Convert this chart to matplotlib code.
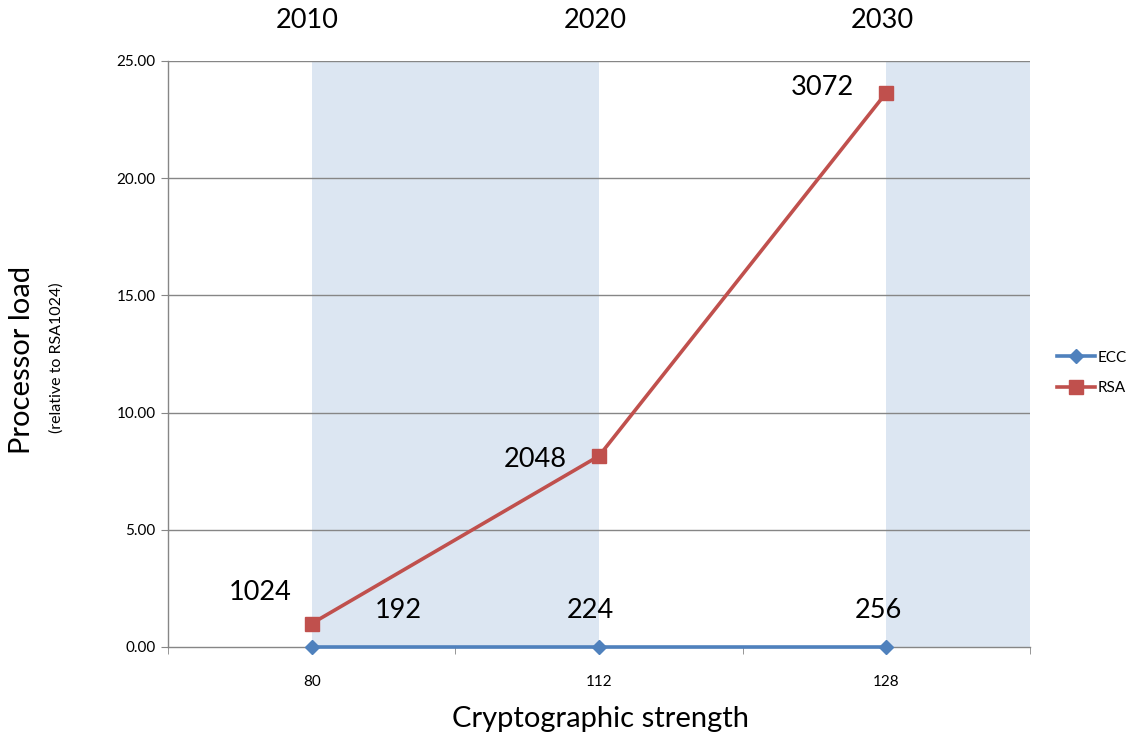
import matplotlib
matplotlib.use("Agg")
import matplotlib.pyplot as plt
from matplotlib.lines import Line2D

plt.rcParams['font.family'] = ['Lato', 'DejaVu Sans']

# Cryptographic strength categories and the years they apply to
strength = ["80", "112", "128"]
years = ["2010", "2020", "2030"]

# Processor load relative to RSA1024
ecc_load = [0.0, 0.0, 0.0]
rsa_load = [1.0, 8.15, 23.65]

# Equivalent key sizes
ecc_keys = ["192", "224", "256"]
rsa_keys = ["1024", "2048", "3072"]

y_ticks = [0, 5, 10, 15, 20, 25]

ecc_color = "#4F81BD"
rsa_color = "#C0504D"
band_color = "#DCE6F2"
grid_color = "#868686"

fig = plt.figure(figsize=(11.27, 7.35), dpi=100)
ax = fig.add_axes([168 / 1127, 1 - 647 / 735, (1030 - 168) / 1127, (647 - 61) / 735])

x = list(range(len(strength)))
ax.set_xlim(-0.5, len(strength) - 0.5)
ax.set_ylim(0, 25)

# shaded time periods
ax.axvspan(x[0], x[1], color=band_color, zorder=0, lw=0)
ax.axvspan(x[2], len(strength) - 0.5, color=band_color, zorder=0, lw=0)

for t in y_ticks[1:]:
    ax.axhline(t, color=grid_color, lw=1, zorder=1)

ax.plot(x, ecc_load, color=ecc_color, lw=2.6, marker="D", markersize=7,
        zorder=4, label="ECC", clip_on=False)
ax.plot(x, rsa_load, color=rsa_color, lw=2.6, marker="s", markersize=10,
        zorder=3, label="RSA", clip_on=False)

label_fs = 19.5
rsa_offsets = [(-51, 31), (-64, -4), (-64, 5)]
ecc_offsets = [(87, 37), (-9, 37), (-8, 37)]
for xi, yi, txt, (dx, dy) in zip(x, rsa_load, rsa_keys, rsa_offsets):
    ax.annotate(txt, (xi, yi), xytext=(dx * 0.72, dy * 0.72), textcoords="offset points",
                ha="center", va="center", fontsize=label_fs, color="black")
for xi, yi, txt, (dx, dy) in zip(x, ecc_load, ecc_keys, ecc_offsets):
    ax.annotate(txt, (xi, yi), xytext=(dx * 0.72, dy * 0.72), textcoords="offset points",
                ha="center", va="center", fontsize=label_fs, color="black")

for xi, yr in zip(x, years):
    ax.annotate(yr, (xi, 1), xycoords=("data", "axes fraction"),
                xytext=(-4 * 0.72, 41 * 0.72), textcoords="offset points",
                ha="center", va="center", fontsize=label_fs, annotation_clip=False)

# axes styling
ax.set_yticks(y_ticks)
ax.set_yticklabels([f"{t:.2f}" for t in y_ticks], fontsize=11)
ax.set_xticks(x)
ax.set_xticklabels(strength, fontsize=11)
ax.tick_params(axis="x", length=0, pad=20)
ax.tick_params(axis="y", length=5, color=grid_color, pad=4)
ax.set_xticks([b + 0.5 for b in range(-1, len(strength))], minor=True)
ax.tick_params(axis="x", which="minor", length=5, color=grid_color)

for side in ["top", "right"]:
    ax.spines[side].set_visible(False)
for side in ["left", "bottom"]:
    ax.spines[side].set_color(grid_color)
    ax.spines[side].set_linewidth(1)

fig.text(600 / 1127, 1 - 719 / 735, "Cryptographic strength",
         ha="center", va="center", fontsize=21)
fig.text(22 / 1127, 1 - 360 / 735, "Processor load", rotation=90,
         ha="center", va="center", fontsize=21)
fig.text(57 / 1127, 1 - 358 / 735, "(relative to RSA1024)", rotation=90,
         ha="center", va="center", fontsize=11.5)

handles = [
    Line2D([0], [0], color=ecc_color, lw=2.6, marker="D", markersize=7),
    Line2D([0], [0], color=rsa_color, lw=2.6, marker="s", markersize=10),
]
fig.legend(handles, ["ECC", "RSA"], loc="center left",
           bbox_to_anchor=(1043 / 1127, 1 - 373 / 735), frameon=False,
           fontsize=11, handlelength=2.5, handletextpad=0.2, labelspacing=1.1)

fig.savefig("out.png", dpi=100)
